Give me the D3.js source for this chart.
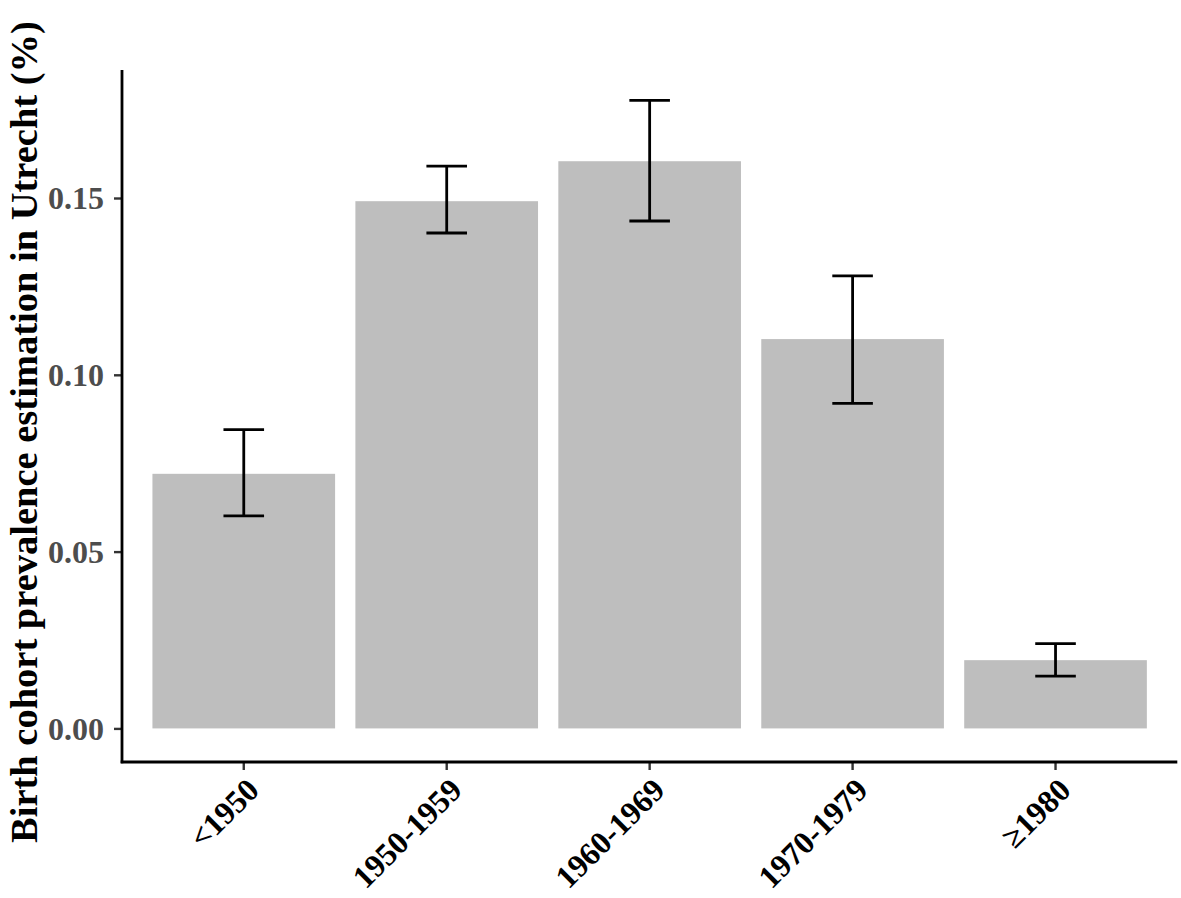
<!DOCTYPE html>
<html>
<head>
<meta charset="utf-8">
<script src="https://cdn.jsdelivr.net/npm/d3@7"></script>
<style>
  html, body { margin: 0; padding: 0; background: #ffffff; }
  svg { display: block; }
</style>
</head>
<body>
<svg id="chart" width="1181" height="898"></svg>
<script>
const categories = ["<1950", "1950-1959", "1960-1969", "1970-1979", "\u22651980"];
const prevalence = [0.0720, 0.1491, 0.1604, 0.1101, 0.0193];
const lowerCI    = [0.0601, 0.1401, 0.1435, 0.0919, 0.0148];
const upperCI    = [0.0845, 0.1590, 0.1776, 0.1280, 0.0240];
const yTicks     = [0.00, 0.05, 0.10, 0.15];
const yTickLabels = ["0.00", "0.05", "0.10", "0.15"];
const yTitle = "Birth cohort prevalence estimation in Utrecht (%)";

(function () {
const svg = d3.select("#chart");
const pLeft = 122, pRight = 1177.3, pTop = 70, pBottom = 762;
const serif = "'Liberation Serif', 'Times New Roman', serif";

const x = d3.scaleBand().domain(categories).range([pLeft, pRight])
  .paddingInner(0.1).paddingOuter(0.15);
const y = d3.scaleLinear().domain([-0.0095, 0.1862]).range([pBottom, pTop]);

const data = categories.map((c, i) => ({c, v: prevalence[i], lo: lowerCI[i], hi: upperCI[i]}));

// bars
svg.append("g").selectAll("rect").data(data).join("rect")
  .attr("x", d => x(d.c))
  .attr("width", x.bandwidth())
  .attr("y", d => y(d.v))
  .attr("height", d => y(0) - y(d.v))
  .attr("fill", "#bebebe");

// error bars
const eb = svg.append("g").attr("stroke", "#000").attr("stroke-width", 2.8).attr("fill", "none");
const half = x.step() * 0.1;
data.forEach(d => {
  const cx = x(d.c) + x.bandwidth() / 2;
  eb.append("line").attr("x1", cx).attr("x2", cx).attr("y1", y(d.lo)).attr("y2", y(d.hi));
  eb.append("line").attr("x1", cx - half).attr("x2", cx + half).attr("y1", y(d.lo)).attr("y2", y(d.lo));
  eb.append("line").attr("x1", cx - half).attr("x2", cx + half).attr("y1", y(d.hi)).attr("y2", y(d.hi));
});

// y axis
const yAxis = svg.append("g").attr("transform", `translate(${pLeft},0)`)
  .call(d3.axisLeft(y).tickValues(yTicks).tickFormat((d, i) => yTickLabels[i]).tickSize(8).tickPadding(10));
yAxis.select(".domain").remove();
yAxis.selectAll(".tick line").attr("stroke", "#333333").attr("stroke-width", 2.4);
yAxis.selectAll(".tick text")
  .attr("fill", "#4d4d4d")
  .attr("font-family", serif)
  .attr("font-weight", "bold")
  .attr("font-size", 32)
  .attr("dy", "0.34em");

// x axis
const xAxis = svg.append("g").attr("transform", `translate(0,${pBottom})`)
  .call(d3.axisBottom(x).tickSize(8).tickSizeOuter(0));
xAxis.select(".domain").remove();
xAxis.selectAll(".tick line").attr("stroke", "#333333").attr("stroke-width", 2.4);
xAxis.selectAll(".tick text")
  .attr("fill", "#000")
  .attr("font-family", serif)
  .attr("font-weight", "bold")
  .attr("font-size", 32)
  .attr("text-anchor", "end")
  .attr("dy", null)
  .attr("y", null)
  .attr("transform", "translate(17,30) rotate(-45)");

// axis lines
svg.append("line").attr("x1", pLeft).attr("x2", pLeft).attr("y1", pTop).attr("y2", pBottom + 1.3)
  .attr("stroke", "#000").attr("stroke-width", 2.8);
svg.append("line").attr("x1", pLeft - 1.3).attr("x2", pRight).attr("y1", pBottom).attr("y2", pBottom)
  .attr("stroke", "#000").attr("stroke-width", 2.8);

// y title
svg.append("text")
  .attr("transform", "translate(37,843) rotate(-90)")
  .attr("text-anchor", "start")
  .attr("font-family", serif)
  .attr("font-weight", "bold")
  .attr("font-size", 38.5)
  .attr("fill", "#000")
  .text(yTitle);
})();
</script>
</body>
</html>
